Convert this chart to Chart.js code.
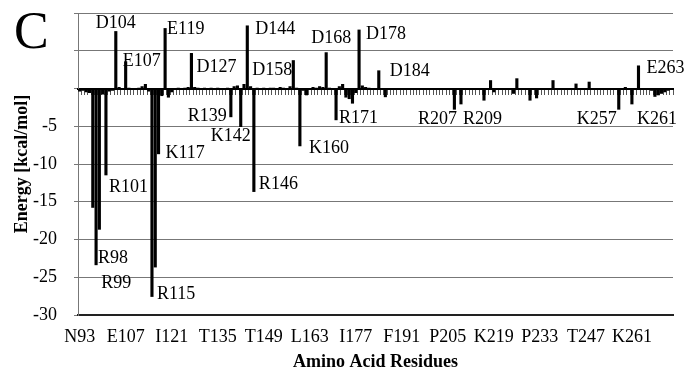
<!DOCTYPE html>
<html>
<head>
<meta charset="utf-8">
<script src="https://cdn.jsdelivr.net/npm/chart.js@4.4.1/dist/chart.umd.min.js"></script>
<style>
  body { margin: 0; background: #fff; }
  #wrap { position: relative; width: 690px; height: 373px; }
  #panel { position: absolute; left: 14px; top: 5px; font: 52px 'Liberation Serif', serif; line-height: 1; color: #000; }
</style>
</head>
<body>
<div id="wrap">
  <canvas id="energyChart" width="690" height="373"></canvas>
  <div id="panel">C</div>
</div>
<script>
// residues shown on the category axis (one bar per residue)
const firstResidue = 93;
const lastResidue = 273;
const residues = [];
for (let r = firstResidue; r <= lastResidue; r++) residues.push(r);

// tick labels printed under the axis (every 14th residue)
const tickLabels = ['N93', 'E107', 'I121', 'T135', 'T149', 'L163', 'I177', 'F191', 'P205', 'K219', 'P233', 'T247', 'K261'];

// interaction energy per residue, kcal/mol
const energy = [
  -0.4, -0.3, -0.5, -0.6, -15.8, -23.4, -18.7, -0.8, -11.5, -0.4, -0.3, 7.6, 0.2, -0.2,   // 93-106
  3.6, 0.1, -0.1, 0, 0.1, 0.3, 0.6, -0.4, -27.6, -23.7, -8.7, -1.0, 8.0, -1.2,            // 107-120
  -0.5, -0.2, 0.1, 0, 0.1, 0.2, 4.7, 0.2, 0.1, 0, 0.1, 0, 0.1, 0,                         // 121-134
  0.1, 0, 0, 0.1, -3.8, 0.3, 0.4, -5.1, 0.6, 8.35, 0.3, -13.7, 0.1, 0,                    // 135-148
  0.1, 0, 0.1, 0.1, 0, 0.2, 0.1, 0, 0.3, 3.75, 0.1, -7.65, -0.3, -0.9,                    // 149-162
  -0.2, 0.2, 0.1, 0.3, 0.2, 4.8, 0.1, 0, -4.2, 0.3, 0.6, -1.2, -1.4, -2.0,                // 163-176
  -0.6, 7.8, 0.4, 0.2, 0.1, 0, 0, 2.4, 0, -1.15, 0, 0, 0, 0,                              // 177-190
  0, 0, 0, 0, 0, 0, 0, 0, 0, 0, 0, 0, 0, 0,                                               // 191-204
  0, 0, -2.8, 0, -2.1, 0, 0, 0, 0, 0, 0, -1.6, 0, 1.1,                                    // 205-218
  -0.5, 0, 0, 0, 0, 0, -0.7, 1.35, 0, 0, 0, -1.6, 0, -1.3,                                // 219-232
  0, 0, 0, 0, 1.1, 0, 0, 0, 0, 0, 0, 0.65, 0, 0,                                          // 233-246
  0, 0.9, 0, 0, 0, 0, 0, 0, 0, 0, -2.8, 0, 0.2, 0,                                        // 247-260
  -2.1, 0, 3.05, 0, 0, 0, -0.3, -1.1, -0.9, -0.7, -0.5, -0.3, 0                           // 261-273
];

// y axis ticks
const yMin = -30, yMax = 10, yStep = 5;

// labelled residues: name, text align, offset from bar tip (px)
const callouts = [
  ['D104', 'center', 0, -8], ['E107', 'left', -3, 0], ['E119', 'left', 2, 1],
  ['D127', 'left', 5, 14], ['D144', 'left', 8, 4], ['D158', 'right', -1, 10],
  ['D168', 'center', 5, -14], ['D178', 'left', 7, 5], ['D184', 'left', 11, 1],
  ['E263', 'left', 8, 3], ['R98', 'left', 2, -7], ['R99', 'left', 2, 54],
  ['R101', 'left', 3, 12], ['R115', 'left', 5, -3], ['K117', 'left', 7, -1],
  ['R139', 'right', -4, -1], ['K142', 'center', -10, 9], ['R146', 'left', 5, -8],
  ['K160', 'left', 9, 2], ['R171', 'left', 3, -2], ['R207', 'center', -17, 10],
  ['R209', 'left', 2, 15], ['K257', 'right', -2, 10], ['K261', 'left', 5, 15]
];

Chart.defaults.font.family = "'Liberation Serif', serif";
Chart.defaults.color = '#000';

const calloutPlugin = {
  id: 'callouts',
  afterDatasetsDraw(chart) {
    const {ctx, scales: {x, y}} = chart;
    ctx.save();
    ctx.font = "18px 'Liberation Serif', serif";
    ctx.fillStyle = '#000';
    ctx.textBaseline = 'middle';
    callouts.forEach(([name, align, dx, dy]) => {
      const idx = residues.indexOf(parseInt(name.slice(1), 10));
      ctx.textAlign = align;
      ctx.fillText(name, x.getPixelForValue(idx) + dx, y.getPixelForValue(energy[idx]) + dy);
    });
    ctx.restore();
  }
};

const ctx = document.getElementById('energyChart').getContext('2d');
new Chart(ctx, {
  type: 'bar',
  data: {
    labels: residues,
    datasets: [{
      data: energy,
      backgroundColor: '#000',
      borderWidth: 0,
      barPercentage: 0.95,
      categoryPercentage: 1
    }]
  },
  options: {
    responsive: false,
    animation: false,
    layout: { padding: { top: 13, right: 17, left: 0, bottom: 0 } },
    plugins: { legend: { display: false }, tooltip: { enabled: false } },
    scales: {
      x: {
        type: 'category',
        grid: { display: false, drawTicks: false },
        border: { display: true, color: '#222', width: 2 },
        ticks: {
          autoSkip: false,
          maxRotation: 0,
          padding: 11,
          font: { size: 18 },
          callback: (v, i) => {
            const t = tickLabels.find(s => parseInt(s.slice(1), 10) === residues[i]);
            return t || '';
          }
        },
        title: {
          display: true,
          text: 'Amino Acid Residues',
          font: { size: 18, weight: 'bold' },
          padding: { top: 0, bottom: 0 }
        },
        afterFit: (s) => { s.height = 58; s.paddingLeft = 0; s.paddingRight = 0; }
      },
      // category axis drawn along the zero line, only its tick marks
      xZero: {
        type: 'category',
        axis: 'x',
        position: { y: 0 },
        offset: true,
        grid: { offset: true, drawOnChartArea: false, drawTicks: true, tickLength: 5, color: '#555', lineWidth: 1 },
        border: { display: true, color: '#000', width: 2 },
        ticks: { display: false, autoSkip: false }
      },
      y: {
        min: yMin,
        max: yMax,
        grid: { color: '#777', lineWidth: 1, tickLength: 4 },
        border: { display: true, color: '#777', width: 1 },
        ticks: {
          stepSize: yStep,
          padding: 17,
          font: { size: 18 },
          callback: (v) => (v < 0 ? String(v) : '')
        },
        title: {
          display: true,
          text: 'Energy [kcal/mol]',
          font: { size: 18, weight: 'bold' },
          padding: { top: 12, bottom: 0 }
        },
        afterFit: (s) => { s.width = 78; s.paddingTop = 0; s.paddingBottom = 0; }
      }
    }
  },
  plugins: [calloutPlugin]
});
</script>
</body>
</html>
